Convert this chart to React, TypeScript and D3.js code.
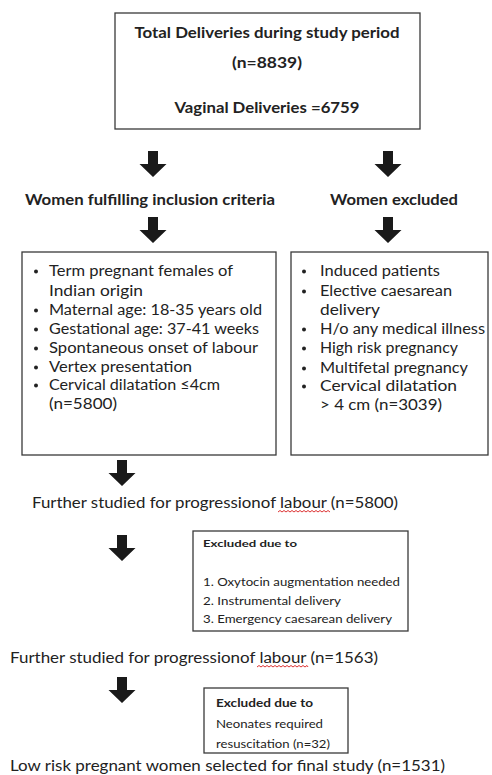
import React from "react";
import * as d3 from "d3";

const topLines = ["Total Deliveries during study period", "(n=8839)", "Vaginal Deliveries =6759"];
const branchLabels = ["Women fulfilling inclusion criteria", "Women excluded"];
const inclusionItems = [
  ["Term pregnant females of", "Indian origin"],
  ["Maternal age: 18-35 years old"],
  ["Gestational age: 37-41 weeks"],
  ["Spontaneous onset of labour"],
  ["Vertex presentation"],
  ["Cervical dilatation \u22644cm", "(n=5800)"],
];
const exclusionItems = [
  ["Induced patients"],
  ["Elective caesarean", "delivery"],
  ["H/o any medical illness"],
  ["High risk pregnancy"],
  ["Multifetal pregnancy"],
  ["Cervical dilatation", "> 4 cm (n=3039)"],
];
const stage1 = ["Further studied for progression", "of ", "labour", " (n=5800)"];
const excluded1Title = "Excluded due to";
const excluded1Items = ["1. Oxytocin augmentation needed", "2. Instrumental delivery", "3. Emergency caesarean delivery"];
const stage2 = ["Further studied for progression", "of ", "labour", " (n=1563)"];
const excluded2Title = "Excluded due to";
const excluded2Items = ["Neonates required", "resuscitation (n=32)"];
const finalLine = "Low risk pregnant women selected for final study (n=1531)";

const FONT = "Lato, 'Open Sans', sans-serif";
const INK = "#222";
const BORDER = "#3a3a3a";

function arrowPath(cx: number, top: number) {
  const p = d3.path();
  const sw = 5, hw = 13.5, shaftH = 13, headH = 13;
  p.moveTo(cx - sw, top);
  p.lineTo(cx + sw, top);
  p.lineTo(cx + sw, top + shaftH);
  p.lineTo(cx + hw, top + shaftH);
  p.lineTo(cx, top + shaftH + headH);
  p.lineTo(cx - hw, top + shaftH);
  p.lineTo(cx - sw, top + shaftH);
  p.closePath();
  return p.toString();
}

function wavy(x0: number, x1: number, y: number) {
  const p = d3.path();
  p.moveTo(x0, y);
  let x = x0;
  let up = true;
  while (x < x1) {
    const nx = Math.min(x + 2, x1);
    p.lineTo(nx, up ? y - 1.5 : y);
    up = !up;
    x = nx;
  }
  return p.toString();
}

function BulletList({ items, bulletX, textX, ys, widths }: { items: string[][]; bulletX: number; textX: number; ys: number[]; widths: number[] }) {
  let i = 0;
  const out: React.ReactNode[] = [];
  items.forEach((lines, k) => {
    lines.forEach((line, j) => {
      const idx = i++;
      const y = ys[idx];
      if (j === 0) out.push(<circle key={`b${k}`} cx={bulletX} cy={y - 4.5} r={2} fill={INK} />);
      out.push(
        <text key={`t${k}-${j}`} x={textX} y={y} fontSize={15.5} fill={INK} fontFamily={FONT}
          textLength={widths[idx]} lengthAdjust="spacingAndGlyphs">
          {line}
        </text>
      );
    });
  });
  return <g>{out}</g>;
}

function StageLine({ parts, x, y, width, wav }: { parts: string[]; x: number; y: number; width: number; wav: [number, number] }) {
  return (
    <g>
      <text x={x} y={y} fontSize={15.5} fill={INK} fontFamily={FONT} textLength={width} lengthAdjust="spacingAndGlyphs">
        {parts.join("")}
      </text>
      <path d={wavy(wav[0], wav[1], y + 4)} stroke="#d33" strokeWidth={1} fill="none" />
    </g>
  );
}

export default function App() {
  const W = 492, H = 775;
  return (
    <div style={{ position: "absolute", left: 0, top: 0, background: "#fff" }}>
      <svg width={W} height={H} viewBox={`0 0 ${W} ${H}`} style={{ display: "block" }}>
        <rect width={W} height={H} fill="#fff" />
        {/* top box */}
        <rect x={115} y={13} width={305} height={116} fill="none" stroke={BORDER} strokeWidth={1.3} />
        {topLines.map((t, i) => (
          <text key={i} x={267} y={[38, 68, 113][i]} textAnchor="middle" fontSize={14.5} fontWeight={700} fill={INK} fontFamily={FONT}
            textLength={[265, 70, 185][i]} lengthAdjust="spacingAndGlyphs">
            {t}
          </text>
        ))}
        {/* arrows row 1 */}
        <path d={arrowPath(153, 151)} fill="#1a1a1a" />
        <path d={arrowPath(388, 151)} fill="#1a1a1a" />
        <text x={150} y={205} textAnchor="middle" fontSize={14.5} fontWeight={700} fill={INK} fontFamily={FONT} textLength={250} lengthAdjust="spacingAndGlyphs">{branchLabels[0]}</text>
        <text x={394} y={205} textAnchor="middle" fontSize={14.5} fontWeight={700} fill={INK} fontFamily={FONT} textLength={128} lengthAdjust="spacingAndGlyphs">{branchLabels[1]}</text>
        <path d={arrowPath(153, 217)} fill="#1a1a1a" />
        <path d={arrowPath(388, 217)} fill="#1a1a1a" />
        {/* criteria boxes */}
        <rect x={22} y={252} width={254} height={203} fill="none" stroke={BORDER} strokeWidth={1.3} />
        <rect x={291} y={252} width={197} height={203} fill="none" stroke={BORDER} strokeWidth={1.3} />
        <BulletList items={inclusionItems} bulletX={36} textX={49} ys={[276, 296, 315, 334, 353, 372, 390, 409]}
          widths={[184, 94, 213, 210, 209, 143, 171, 68]} />
        <BulletList items={exclusionItems} bulletX={304} textX={320} ys={[276, 296, 315, 334, 353, 373, 391, 410]}
          widths={[120, 132, 60, 165, 138, 148, 137, 122]} />
        {/* stage 1 */}
        <path d={arrowPath(122, 460)} fill="#1a1a1a" />
        <StageLine parts={stage1} x={32} y={508} width={366} wav={[278, 330]} />
        <path d={arrowPath(122, 535)} fill="#1a1a1a" />
        <rect x={193} y={531} width={215} height={100} fill="none" stroke={BORDER} strokeWidth={1.3} />
        <text x={203} y={546.5} fontSize={10} fontWeight={700} fill={INK} fontFamily={FONT} textLength={94} lengthAdjust="spacingAndGlyphs">{excluded1Title}</text>
        {excluded1Items.map((t, i) => (
          <text key={i} x={203} y={[585.5, 604.5, 622.5][i]} fontSize={10.5} fill={INK} fontFamily={FONT}
            textLength={[197, 138, 189][i]} lengthAdjust="spacingAndGlyphs">
            {t}
          </text>
        ))}
        {/* stage 2 */}
        <StageLine parts={stage2} x={10} y={663} width={368} wav={[257, 308]} />
        <path d={arrowPath(122, 677)} fill="#1a1a1a" />
        <rect x={204} y={688} width={144} height={65} fill="none" stroke={BORDER} strokeWidth={1.3} />
        <text x={216} y={707} fontSize={12} fontWeight={700} fill={INK} fontFamily={FONT} textLength={97} lengthAdjust="spacingAndGlyphs">{excluded2Title}</text>
        {excluded2Items.map((t, i) => (
          <text key={i} x={216} y={[728, 748][i]} fontSize={11.5} fill={INK} fontFamily={FONT}
            textLength={[107, 114][i]} lengthAdjust="spacingAndGlyphs">
            {t}
          </text>
        ))}
        {/* final */}
        <text x={10} y={771} fontSize={16} fill={INK} fontFamily={FONT} textLength={435} lengthAdjust="spacingAndGlyphs">{finalLine}</text>
      </svg>
    </div>
  );
}
